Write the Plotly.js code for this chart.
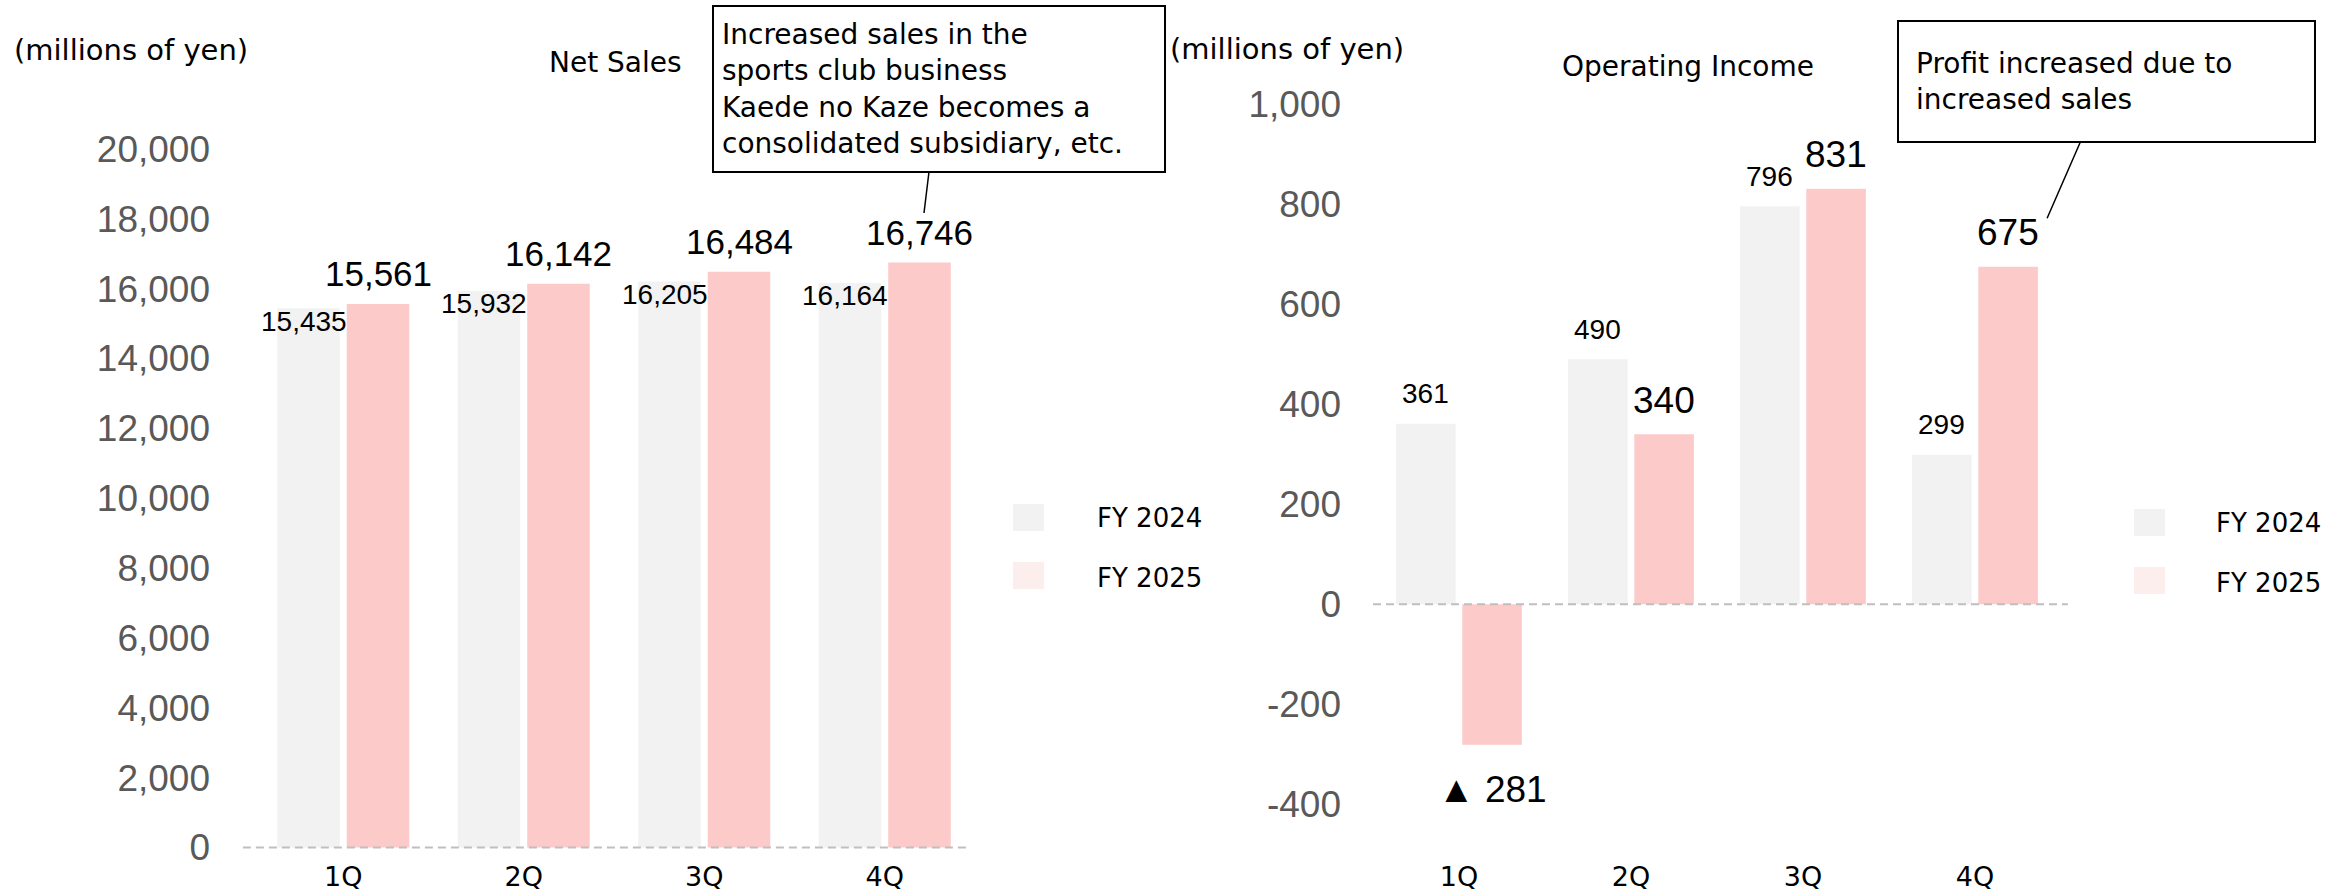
<!DOCTYPE html>
<html>
<head>
<meta charset="utf-8">
<script src="https://cdn.plot.ly/plotly-3.0.1.min.js"></script>
<style>
  html, body { margin: 0; padding: 0; background: #ffffff; }
  #chart { width: 2346px; height: 895px; }
</style>
</head>
<body>
<div id="chart"></div>
<script>
// quarterly figures, millions of yen
const quarters = ["1Q", "2Q", "3Q", "4Q"];
const seriesNames = ["FY 2024", "FY 2025"];
const salesFY2024 = [15435, 15932, 16205, 16164];
const salesFY2025 = [15561, 16142, 16484, 16746];
const incomeFY2024 = [361, 490, 796, 299];
const incomeFY2025 = [-281, 340, 831, 675];
const salesTicks = [0, 2000, 4000, 6000, 8000, 10000, 12000, 14000, 16000, 18000, 20000];
const incomeTicks = [-400, -200, 0, 200, 400, 600, 800, 1000];
const unitLabel = "(millions of yen)";
const titles = ["Net Sales", "Operating Income"];
const salesNote = ["Increased sales in the", "sports club business", "Kaede no Kaze becomes a", "consolidated subsidiary, etc."];
const incomeNote = ["Profit increased due to", "increased sales"];

const TEXT_FONT = '"DejaVu Sans", Verdana, sans-serif';
const NUM_FONT = 'Arial, "Liberation Sans", sans-serif';
const GREY = "#f2f2f2";
const PINK = "#fdcaca";
const PINK_KEY = "#fdeeee";
const W = 2346;
const H = 895;
const OFF = 0.1925; // bar centre offset from category centre (category units)

const fmt = (v) => (v < 0 ? "\u25B2 " + Math.abs(v).toLocaleString("en-US") : v.toLocaleString("en-US"));

const bar = (y, color, xa, ya) => ({
  type: "bar", x: quarters, y, xaxis: xa, yaxis: ya,
  marker: { color, line: { width: 0 } }, showlegend: false, hoverinfo: "skip",
});
const key = (name, color, xa, ya, leg, grp) => ({
  type: "scatter", mode: "markers", x: [quarters[0]], y: [null], xaxis: xa, yaxis: ya,
  name, legend: leg, legendgroup: grp,
  marker: { symbol: "square", size: 16, color, line: { width: 0 } }, hoverinfo: "skip",
});

const traces = [
  bar(salesFY2024, GREY, "x", "y"),
  bar(salesFY2025, PINK, "x", "y"),
  bar(incomeFY2024, GREY, "x2", "y2"),
  bar(incomeFY2025, PINK, "x2", "y2"),
  key(seriesNames[0], GREY, "x", "y", "legend", "a"),
  key(seriesNames[1], PINK_KEY, "x", "y", "legend", "b"),
  key(seriesNames[0], GREY, "x2", "y2", "legend2", "c"),
  key(seriesNames[1], PINK_KEY, "x2", "y2", "legend2", "d"),
];

const annotations = [];
const label = (xa, ya, x, y, size, yshift, xshift) => annotations.push({
  xref: xa, yref: ya, x, y, text: fmt(y), showarrow: false,
  xanchor: "center", yanchor: "middle", yshift, xshift: xshift || 0,
  font: { family: NUM_FONT, size, color: "#000000" },
});
quarters.forEach((q, i) => {
  label("x", "y", i - OFF, salesFY2024[i], 28, -13, -5);
  label("x", "y", i + OFF, salesFY2025[i], 35, 30);
  label("x2", "y2", i - OFF, incomeFY2024[i], 28, 30);
  label("x2", "y2", i + OFF, incomeFY2025[i], 37, incomeFY2025[i] < 0 ? -45 : 34);
});

const paperText = (text, px, py, size) => annotations.push({
  xref: "paper", yref: "paper", x: px / W, y: 1 - py / H, text, showarrow: false,
  xanchor: "center", yanchor: "middle", font: { family: TEXT_FONT, size, color: "#000000" },
});
paperText(unitLabel, 131, 50, 29);
paperText(titles[0], 615, 63, 28);
paperText(unitLabel, 1287, 49, 29);
paperText(titles[1], 1688, 66, 28);

// callouts
annotations.push({
  xref: "x", yref: "y", x: 3 + OFF, y: salesFY2025[3], xshift: 4.5, yshift: 49.6,
  ax: 15, ay: -124, showarrow: true, arrowhead: 0, arrowwidth: 1.5, arrowcolor: "#000000",
  text: salesNote.join("<br>"), align: "left", valign: "middle",
  width: 434, height: 148, borderpad: 8, borderwidth: 2, bordercolor: "#000000", bgcolor: "#ffffff",
  font: { family: TEXT_FONT, size: 28, color: "#000000" },
});
annotations.push({
  xref: "x2", yref: "y2", x: 3 + OFF, y: incomeFY2025[3], xshift: 39, yshift: 48.5,
  ax: 59.5, ay: -136.5, showarrow: true, arrowhead: 0, arrowwidth: 1.5, arrowcolor: "#000000",
  text: incomeNote.join("<br>"), align: "left", valign: "middle",
  width: 381, height: 85, borderpad: 17, borderwidth: 2, bordercolor: "#000000", bgcolor: "#ffffff",
  font: { family: TEXT_FONT, size: 28, color: "#000000" },
});

const xBase = {
  type: "category", range: [-0.5, 3.5], showgrid: false, zeroline: false, showline: false,
  ticks: "", ticklabelstandoff: 8, tickfont: { family: TEXT_FONT, size: 27, color: "#000000" },
};
const yBase = {
  domain: [0.05, 0.93], showgrid: false, zeroline: false, showline: false, ticks: "",
  tickfont: { family: NUM_FONT, size: 37, color: "#595959" },
};
const legBase = {
  xanchor: "left", yanchor: "top", bgcolor: "rgba(0,0,0,0)", traceorder: "grouped",
  tracegroupgap: 24, itemwidth: 128, font: { family: TEXT_FONT, size: 26, color: "#000000" },
};
const zeroLine = (xa, ya, x0, x1) => ({
  type: "line", xref: xa + " domain", yref: ya, x0, x1, y0: 0, y1: 0, layer: "above",
  line: { color: "#bfbfbf", width: 2, dash: "8px,5px" },
});
// larger legend keys, drawn under the legend's own markers
const swatch = (x0, y0, color) => ({
  type: "rect", xref: "paper", yref: "paper", layer: "above",
  x0: x0 / W, x1: (x0 + 31) / W, y0: 1 - (y0 + 27) / H, y1: 1 - y0 / H,
  fillcolor: color, line: { width: 0 },
});

const layout = {
  width: W, height: H, margin: { l: 0, r: 0, t: 0, b: 0 },
  paper_bgcolor: "#ffffff", plot_bgcolor: "#ffffff",
  barmode: "group", bargap: 0.23, bargroupgap: 0.1, showlegend: true,
  xaxis: { ...xBase, domain: [253 / W, 975 / W], anchor: "y" },
  yaxis: { ...yBase, anchor: "x", range: [-80, 22470], tickvals: salesTicks, ticktext: salesTicks.map(fmt), ticklabelstandoff: 42 },
  xaxis2: { ...xBase, domain: [1373 / W, 2061 / W], anchor: "y2" },
  yaxis2: { ...yBase, anchor: "x2", range: [-492, 1083], tickvals: incomeTicks, ticktext: incomeTicks.map((v) => v.toLocaleString("en-US")), ticklabelstandoff: 31 },
  legend: { ...legBase, x: 959 / W, y: 1 - 493 / H },
  legend2: { ...legBase, itemwidth: 122, x: 2084 / W, y: 1 - 498 / H },
  shapes: [
    zeroLine("x", "y", -0.014, 0.99), zeroLine("x2", "y2", 0, 1.01),
    swatch(1013, 504, GREY), swatch(1013, 562, PINK_KEY),
    swatch(2134, 509, GREY), swatch(2134, 567, PINK_KEY),
  ],
  annotations,
};

Plotly.newPlot("chart", traces, layout, { staticPlot: true, displayModeBar: false });
</script>
</body>
</html>
